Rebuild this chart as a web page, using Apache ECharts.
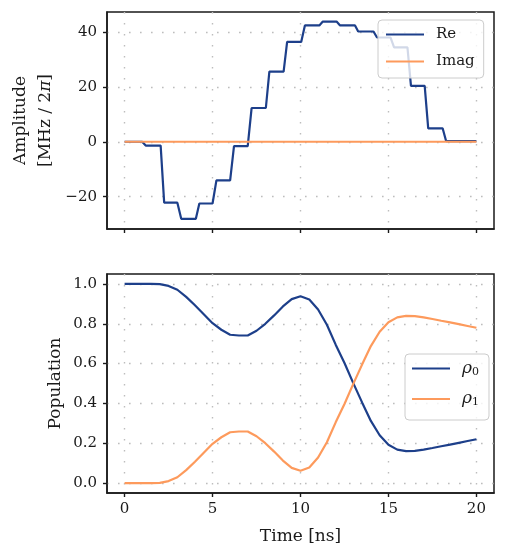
<!DOCTYPE html>
<html>
<head>
<meta charset="utf-8">
<script src="https://cdn.jsdelivr.net/npm/echarts@6/dist/echarts.min.js"></script>
<style>
  html, body { margin: 0; padding: 0; background: #fff; }
  #main { width: 506px; height: 560px; }
</style>
</head>
<body>
<div id="main"></div>
<script>
// pulse amplitude, piecewise constant (real part)
const reTime = [0, 1, 1.2, 2.05, 2.25, 3, 3.22, 4.05, 4.25, 5, 5.22, 6, 6.22, 7, 7.22, 8.03, 8.23,
  9.04, 9.24, 10.04, 10.25, 11.07, 11.27, 12.05, 12.25, 13.1, 13.28, 14.15, 14.35, 15.12, 15.32,
  16.08, 16.28, 17.06, 17.26, 18.08, 18.28, 20];
const reValue = [0, 0, -1.4, -1.4, -22.2, -22.2, -28.1, -28.1, -22.5, -22.5, -14.1, -14.1, -1.6, -1.6,
  12.3, 12.3, 25.6, 25.6, 36.4, 36.4, 42.4, 42.4, 43.8, 43.8, 42.4, 42.4, 40.2, 40.2, 38.0, 38.0,
  34.4, 34.4, 20.4, 20.4, 4.9, 4.9, 0.2, 0.2];
const imagTime = [0, 20];
const imagValue = [0, 0];

// populations
const popTime = [0, 0.5, 1, 1.5, 2, 2.5, 3, 3.5, 4, 4.5, 5, 5.5, 6, 6.5, 7, 7.5, 8, 8.5, 9, 9.5, 10,
  10.5, 11, 11.5, 12, 12.5, 13, 13.5, 14, 14.5, 15, 15.5, 16, 16.5, 17, 17.5, 18, 18.5, 19, 19.5, 20];
const rho0 = [1.0, 1.0, 1.0, 1.0, 0.999, 0.99, 0.971, 0.935, 0.893, 0.848, 0.803, 0.77, 0.745, 0.741,
  0.741, 0.765, 0.8, 0.842, 0.887, 0.924, 0.938, 0.922, 0.872, 0.795, 0.695, 0.603, 0.502, 0.405,
  0.312, 0.24, 0.192, 0.168, 0.16, 0.162, 0.168, 0.176, 0.185, 0.193, 0.202, 0.211, 0.22];
const rho1 = [0, 0, 0, 0, 0.001, 0.01, 0.029, 0.065, 0.107, 0.152, 0.197, 0.23, 0.255, 0.259,
  0.259, 0.235, 0.2, 0.158, 0.113, 0.076, 0.062, 0.078, 0.128, 0.205, 0.305, 0.397, 0.498, 0.595,
  0.688, 0.76, 0.808, 0.832, 0.84, 0.838, 0.832, 0.824, 0.815, 0.807, 0.798, 0.789, 0.78];

const xTicks = [0, 5, 10, 15, 20];
const ampTicks = [-20, 0, 20, 40];
const popTicks = [0, 0.2, 0.4, 0.6, 0.8, 1.0];

const BLUE = '#1d3f8a';
const ORANGE = '#fd9a5c';
const INK = '#1a1a1a';
const FONT = 'DejaVu Serif';

function pairs (xs, ys) {
  return xs.map(function (x, i) { return [x, ys[i]]; });
}

const dotted = { show: true, lineStyle: { color: '#bdbdbd', width: 1.4, type: [1.6, 9.4] } };
const frameLine = { show: true, onZero: false, lineStyle: { color: INK, width: 1.5 } };
const tick = function (vals) {
  return { show: true, inside: false, customValues: vals, length: 4, lineStyle: { color: INK, width: 1.4 } };
};

function xAxisFor (gridIndex, withLabels, name) {
  return {
    type: 'value', gridIndex: gridIndex, min: -1, max: 21,
    axisLine: frameLine,
    axisTick: tick(xTicks),
    axisLabel: { show: withLabels, customValues: xTicks, margin: 9, color: INK, fontFamily: FONT, fontSize: 15 },
    splitLine: dotted,
    name: name, nameLocation: 'middle', nameGap: 35, nameMoveOverlap: false,
    nameTextStyle: { color: INK, fontFamily: FONT, fontSize: 17 },
  };
}

function yAxisFor (gridIndex, min, max, ticks, name, gap, fmt) {
  return {
    type: 'value', gridIndex: gridIndex, min: min, max: max,
    axisLine: frameLine,
    axisTick: tick(ticks),
    axisLabel: { customValues: ticks, margin: 10, color: INK, fontFamily: FONT, fontSize: 15, formatter: fmt },
    splitLine: dotted,
    name: name, nameLocation: 'middle', nameGap: gap, nameRotate: 90, nameMoveOverlap: false,
    nameTextStyle: {
      color: INK, fontFamily: FONT, fontSize: 17, lineHeight: 25,
      rich: { pi: { fontFamily: FONT, fontSize: 17, fontStyle: 'italic', color: INK } },
    },
  };
}

const legendBase = {
  orient: 'vertical', itemWidth: 38, itemHeight: 14,
  itemStyle: { opacity: 0 },
  backgroundColor: 'rgba(255,255,255,0.8)', borderColor: '#cccccc', borderWidth: 1, borderRadius: 4,
  textStyle: { color: INK, fontFamily: FONT, fontSize: 15, padding: [0, 0, 0, 7] },
};

const gridBase = { left: 107, right: 12, show: true, borderColor: INK, borderWidth: 1.5, outerBoundsMode: 'none' };

const option = {
  animation: false,
  backgroundColor: '#fff',
  grid: [
    Object.assign({}, gridBase, { top: 12, height: 217 }),
    Object.assign({}, gridBase, { top: 274, height: 219 }),
  ],
  legend: [
    Object.assign({}, legendBase, {
      data: ['Re', 'Imag'], left: 378, top: 20, itemGap: 12, padding: [7, 9, 9, 7],
    }),
    Object.assign({}, legendBase, {
      data: ['rho0', 'rho1'], left: 405, top: 354, itemGap: 13, padding: [6, 10, 12, 6],
      formatter: function (n) { return '{r|ρ}{s|' + n.slice(3) + '}'; },
      textStyle: {
        color: INK, fontFamily: FONT, fontSize: 15, padding: [0, 0, 0, 7],
        rich: {
          r: { fontFamily: FONT, fontSize: 17, fontStyle: 'italic', color: INK },
          s: { fontFamily: FONT, fontSize: 11, color: INK, padding: [7, 0, 0, 0] },
        },
      },
    }),
  ],
  xAxis: [
    xAxisFor(0, false, ''),
    xAxisFor(1, true, 'Time [ns]'),
  ],
  yAxis: [
    yAxisFor(0, -31.8, 47.3, ampTicks, 'Amplitude\n[MHz / 2{pi|π}]', 49,
      function (v) { return v < 0 ? '\u2212' + Math.abs(v) : String(v); }),
    yAxisFor(1, -0.05, 1.05, popTicks, 'Population', 39,
      function (v) { return v.toFixed(1); }),
  ],
  series: [
    { name: 'Re', type: 'line', xAxisIndex: 0, yAxisIndex: 0, data: pairs(reTime, reValue),
      symbol: 'none', color: BLUE, lineStyle: { width: 2.2, color: BLUE } },
    { name: 'Imag', type: 'line', xAxisIndex: 0, yAxisIndex: 0, data: pairs(imagTime, imagValue),
      symbol: 'none', color: ORANGE, lineStyle: { width: 2.2, color: ORANGE } },
    { name: 'rho0', type: 'line', xAxisIndex: 1, yAxisIndex: 1, data: pairs(popTime, rho0),
      symbol: 'none', color: BLUE, lineStyle: { width: 2.2, color: BLUE } },
    { name: 'rho1', type: 'line', xAxisIndex: 1, yAxisIndex: 1, data: pairs(popTime, rho1),
      symbol: 'none', color: ORANGE, lineStyle: { width: 2.2, color: ORANGE } },
  ],
};

const chart = echarts.init(document.getElementById('main'), null, { renderer: 'canvas' });
chart.setOption(option);
</script>
</body>
</html>
